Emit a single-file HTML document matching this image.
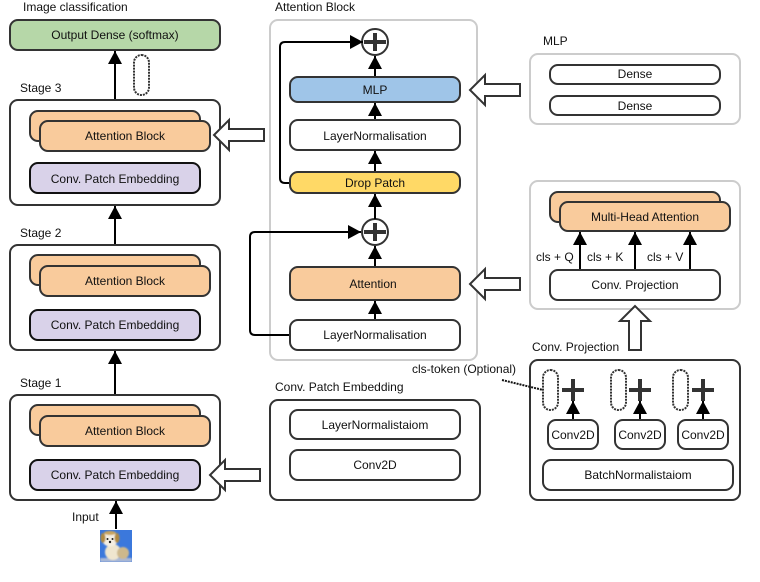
<!DOCTYPE html>
<html><head><meta charset="utf-8"><style>
html,body{margin:0;padding:0;background:#fff}
svg{display:block}
text{font-family:"Liberation Sans",sans-serif;font-size:12px;fill:#111;}
.m{text-anchor:middle}
.b{stroke:#333;stroke-width:2;fill:#fff}
.l{stroke:#ccc;stroke-width:2;fill:#fff}
.w{stroke:#000;stroke-width:2;fill:none}
.o{fill:#f9cb9c}
.p{fill:#d9d2e9;stroke:#111}
.d{stroke:#333;stroke-width:2;stroke-dasharray:2 1;fill:#fff}
.h{stroke:#333;stroke-width:2;fill:#fff;stroke-linejoin:miter}
.pl{stroke:#333;stroke-width:4;fill:none}
</style></head><body>
<svg width="760" height="582" viewBox="0 0 760 582" xmlns="http://www.w3.org/2000/svg">
<defs><marker id="a" markerWidth="15" markerHeight="16" refX="13" refY="7" orient="auto" markerUnits="userSpaceOnUse"><path d="M0 0L13 7L0 14Z" fill="#000"/></marker>
<filter id="bl"><feGaussianBlur stdDeviation="0.8"/></filter>
<clipPath id="dog"><rect x="100" y="530" width="32" height="32"/></clipPath></defs>

<text x="23" y="11">Image classification</text>
<rect x="10" y="20" width="210" height="30" rx="8" fill="#b6d7a8" stroke="#333" stroke-width="2"/>
<text x="115" y="39" class="m">Output Dense (softmax)</text>
<path d="M115 99V51" class="w" marker-end="url(#a)"/>
<rect x="134" y="55" width="15" height="40" rx="7.5" class="d"/>

<text x="20" y="92">Stage 3</text>
<rect x="10" y="100" width="210" height="105" rx="8" class="b"/>
<rect x="30" y="111" width="170" height="30" rx="8" class="b o"/>
<rect x="40" y="121" width="170" height="30" rx="8" class="b o"/>
<text x="125" y="140" class="m">Attention Block</text>
<rect x="30" y="163" width="170" height="30" rx="8" class="b p"/>
<text x="115" y="183" class="m">Conv. Patch Embedding</text>
<path d="M115 244V206" class="w" marker-end="url(#a)"/>
<path d="M264 129V141H229V150L214 135L229 120V129Z" class="h"/>

<text x="20" y="237">Stage 2</text>
<rect x="10" y="245" width="210" height="105" rx="8" class="b"/>
<rect x="30" y="255" width="170" height="30" rx="8" class="b o"/>
<rect x="40" y="266" width="170" height="30" rx="8" class="b o"/>
<text x="125" y="285" class="m">Attention Block</text>
<rect x="30" y="310" width="170" height="30" rx="8" class="b p"/>
<text x="115" y="329" class="m">Conv. Patch Embedding</text>
<path d="M115 394V351" class="w" marker-end="url(#a)"/>

<text x="20" y="387">Stage 1</text>
<rect x="10" y="395" width="210" height="105" rx="8" class="b"/>
<rect x="30" y="405" width="170" height="30" rx="8" class="b o"/>
<rect x="40" y="416" width="170" height="30" rx="8" class="b o"/>
<text x="125" y="435" class="m">Attention Block</text>
<rect x="30" y="460" width="170" height="30" rx="8" class="b p"/>
<text x="115" y="479" class="m">Conv. Patch Embedding</text>
<path d="M260 469V481H225V490L210 475L225 460V469Z" class="h"/>

<text x="72" y="521">Input</text>
<path d="M116 529V501" class="w" marker-end="url(#a)"/>
<g clip-path="url(#dog)"><rect x="100" y="530" width="32" height="32" fill="#3b78dc"/>
<g filter="url(#bl)"><rect x="100" y="558" width="32" height="4" fill="#a9b8d6"/>
<ellipse cx="113" cy="552" rx="8" ry="8" fill="#efe6cf"/><ellipse cx="123" cy="553" rx="6" ry="6" fill="#cdb88c"/>
<ellipse cx="110" cy="539" rx="8" ry="7.500" fill="#f5efe2"/><ellipse cx="103" cy="538" rx="2.500" ry="5" fill="#b08a40"/><ellipse cx="117" cy="538" rx="2.500" ry="5" fill="#b08a40"/><ellipse cx="110" cy="533" rx="6" ry="2" fill="#c9a45c"/></g>
<circle cx="107.500" cy="539" r="1" fill="#222"/><circle cx="112.500" cy="539" r="1" fill="#222"/><circle cx="110" cy="542" r="1.200" fill="#222"/></g>

<text x="275" y="11">Attention Block</text>
<rect x="270" y="20" width="207" height="340" rx="8" class="l"/>
<circle cx="375" cy="42" r="13" fill="#fff" stroke="#333" stroke-width="2"/>
<path d="M364 42H386M375 33V51" class="pl"/>
<path d="M290 183H285Q280 183 280 178V47Q280 42 285 42H363" class="w" marker-end="url(#a)"/>
<path d="M375 77V56" class="w" marker-end="url(#a)"/>
<rect x="290" y="77" width="170" height="25" rx="8" fill="#9fc5e8" stroke="#333" stroke-width="2"/>
<text x="375" y="94" class="m">MLP</text>
<path d="M375 120V103" class="w" marker-end="url(#a)"/>
<rect x="290" y="120" width="170" height="30" rx="8" class="b"/>
<text x="375" y="140" class="m">LayerNormalisation</text>
<path d="M375 172V151" class="w" marker-end="url(#a)"/>
<rect x="290" y="172" width="170" height="21" rx="8" fill="#ffd966" stroke="#333" stroke-width="2"/>
<text x="375" y="187" class="m">Drop Patch</text>
<circle cx="375" cy="232" r="13" fill="#fff" stroke="#333" stroke-width="2"/>
<path d="M364 232H386M375 223V241" class="pl"/>
<path d="M375 219V194" class="w" marker-end="url(#a)"/>
<path d="M290 335H255Q250 335 250 330V237Q250 232 255 232H361" class="w" marker-end="url(#a)"/>
<path d="M375 267V246" class="w" marker-end="url(#a)"/>
<rect x="290" y="267" width="170" height="33" rx="8" class="b o"/>
<text x="373" y="288" class="m">Attention</text>
<path d="M375 320V301" class="w" marker-end="url(#a)"/>
<rect x="290" y="320" width="170" height="30" rx="8" class="b"/>
<text x="375" y="339" class="m">LayerNormalisation</text>

<text x="543" y="45">MLP</text>
<rect x="530" y="54" width="210" height="70" rx="8" class="l"/>
<rect x="550" y="65" width="170" height="19" rx="8" class="b"/>
<text x="635" y="78" class="m">Dense</text>
<rect x="550" y="96" width="170" height="19" rx="8" class="b"/>
<text x="635" y="110" class="m">Dense</text>
<path d="M520 84V96H485V105L470 90L485 75V84Z" class="h"/>

<rect x="530" y="181" width="210" height="128" rx="8" class="l"/>
<rect x="550" y="192" width="170" height="30" rx="8" class="b o"/>
<rect x="560" y="202" width="170" height="29" rx="8" class="b o"/>
<text x="645" y="221" class="m">Multi-Head Attention</text>
<path d="M580 270V232" class="w" marker-end="url(#a)"/>
<path d="M635 270V232" class="w" marker-end="url(#a)"/>
<path d="M690 270V232" class="w" marker-end="url(#a)"/>
<text x="536" y="261">cls + Q</text>
<text x="587" y="261">cls + K</text>
<text x="647" y="261">cls + V</text>
<rect x="550" y="270" width="170" height="30" rx="8" class="b"/>
<text x="635" y="289" class="m">Conv. Projection</text>
<path d="M520 278V290H485V299L470 284L485 269V278Z" class="h"/>
<path d="M629 350V321H620L635 306L650 321H641V350Z" class="h"/>

<text x="532" y="351">Conv. Projection</text>
<rect x="530" y="360" width="210" height="140" rx="8" class="b"/>
<text x="412" y="373">cls-token (Optional)</text>
<path d="M502 380L543 390" stroke="#111" stroke-width="2" stroke-dasharray="2 1" fill="none"/>
<rect x="543" y="370" width="15" height="40" rx="7.500" class="d"/>
<rect x="611" y="370" width="15" height="40" rx="7.500" class="d"/>
<rect x="673" y="370" width="15" height="40" rx="7.500" class="d"/>
<path d="M562 390H584M573 379V401M629 390H651M640 379V401M692 390H714M703 379V401" class="pl"/>
<path d="M573 420V401" class="w" marker-end="url(#a)"/>
<path d="M640 420V401" class="w" marker-end="url(#a)"/>
<path d="M703 420V401" class="w" marker-end="url(#a)"/>
<rect x="548" y="420" width="50" height="29" rx="8" class="b"/>
<text x="573" y="439" class="m">Conv2D</text>
<rect x="615" y="420" width="50" height="29" rx="8" class="b"/>
<text x="640" y="439" class="m">Conv2D</text>
<rect x="678" y="420" width="50" height="29" rx="8" class="b"/>
<text x="703" y="439" class="m">Conv2D</text>
<rect x="543" y="460" width="190" height="30" rx="8" class="b"/>
<text x="638" y="479" class="m">BatchNormalistaiom</text>

<text x="275" y="391">Conv. Patch Embedding</text>
<rect x="270" y="400" width="210" height="100" rx="8" class="b"/>
<rect x="290" y="410" width="170" height="29" rx="8" class="b"/>
<text x="375" y="429" class="m">LayerNormalistaiom</text>
<rect x="290" y="450" width="170" height="30" rx="8" class="b"/>
<text x="375" y="469" class="m">Conv2D</text>
</svg>
</body></html>
